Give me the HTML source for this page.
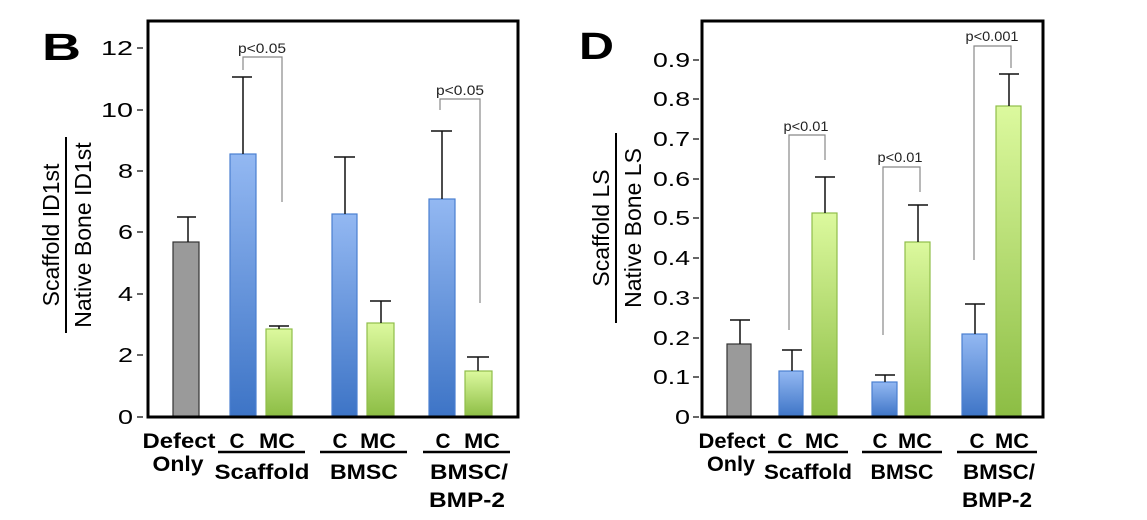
<!DOCTYPE html>
<html><head><style>body{margin:0;background:#fff}svg{display:block}</style></head>
<body>
<svg width="1147" height="520" viewBox="0 0 1147 520" xmlns="http://www.w3.org/2000/svg" font-family="Liberation Sans, Arial, sans-serif">
<defs>
<linearGradient id="bl" x1="0" y1="0" x2="0" y2="1"><stop offset="0" stop-color="#93b8f2"/><stop offset="1" stop-color="#3d74c6"/></linearGradient>
<linearGradient id="gr" x1="0" y1="0" x2="0" y2="1"><stop offset="0" stop-color="#dcf99e"/><stop offset="1" stop-color="#8cbd44"/></linearGradient>
</defs>
<!-- Panel B -->
<text x="42" y="60" font-size="38" font-weight="bold" textLength="39" lengthAdjust="spacingAndGlyphs">B</text>
<g font-size="20" text-anchor="end" lengthAdjust="spacingAndGlyphs">
<text x="133" y="424" textLength="15" lengthAdjust="spacingAndGlyphs">0</text><text x="133" y="362" textLength="15" lengthAdjust="spacingAndGlyphs">2</text><text x="133" y="301" textLength="15" lengthAdjust="spacingAndGlyphs">4</text><text x="133" y="239" textLength="15" lengthAdjust="spacingAndGlyphs">6</text><text x="133" y="178" textLength="15" lengthAdjust="spacingAndGlyphs">8</text><text x="133" y="117" textLength="32" lengthAdjust="spacingAndGlyphs">10</text><text x="133" y="55" textLength="32" lengthAdjust="spacingAndGlyphs">12</text>
</g>
<g stroke="#333" stroke-width="1.5">
<line x1="137" y1="417" x2="143" y2="417"/><line x1="137" y1="355" x2="143" y2="355"/><line x1="137" y1="294" x2="143" y2="294"/><line x1="137" y1="232" x2="143" y2="232"/><line x1="137" y1="171" x2="143" y2="171"/><line x1="137" y1="110" x2="143" y2="110"/><line x1="137" y1="48" x2="143" y2="48"/>
</g>
<g transform="translate(66,235) rotate(-90)" font-size="23" text-anchor="middle">
<text x="0" y="-7">Scaffold ID1st</text><text x="0" y="25">Native Bone ID1st</text>
<line x1="-98" y1="0" x2="98" y2="0" stroke="#000" stroke-width="2"/>
</g>
<g stroke-width="1.2">
<rect x="173" y="242" width="26" height="175" fill="#9a9a9a" stroke="#333"/>
<rect x="230" y="154" width="26" height="263" fill="url(#bl)" stroke="#4a7fd0"/>
<rect x="266" y="329" width="26" height="88" fill="url(#gr)" stroke="#8fbd4a"/>
<rect x="332" y="214" width="25" height="203" fill="url(#bl)" stroke="#4a7fd0"/>
<rect x="367" y="323" width="27" height="94" fill="url(#gr)" stroke="#8fbd4a"/>
<rect x="429" y="199" width="26" height="218" fill="url(#bl)" stroke="#4a7fd0"/>
<rect x="465" y="371" width="27" height="46" fill="url(#gr)" stroke="#8fbd4a"/>
</g>
<g stroke="#111" stroke-width="1.5">
<path d="M188 242V217M177 217H196"/>
<path d="M243 154V77M232 77H252"/>
<path d="M279 329V326M269 326H289"/>
<path d="M345 214V157M334 157H355"/>
<path d="M381 323V301M370 301H391"/>
<path d="M442 199V131M431 131H452"/>
<path d="M478 371V357M467 357H489"/>
</g>
<g stroke="#888" stroke-width="1.2" fill="none">
<path d="M243 70V57H282V202"/>
<path d="M440 110V99H480V303"/>
</g>
<g font-size="14" text-anchor="middle" fill="#222"><text x="262" y="53" textLength="48" lengthAdjust="spacingAndGlyphs">p&lt;0.05</text><text x="460" y="95" textLength="48" lengthAdjust="spacingAndGlyphs">p&lt;0.05</text></g>
<rect x="148" y="21" width="370" height="396" fill="none" stroke="#000" stroke-width="3"/>
<g font-size="21" font-weight="bold" text-anchor="middle">
<text x="179" y="448" textLength="73" lengthAdjust="spacingAndGlyphs">Defect</text><text x="178" y="471" textLength="51" lengthAdjust="spacingAndGlyphs">Only</text>
<text x="237" y="448" textLength="15" lengthAdjust="spacingAndGlyphs">C</text><text x="277" y="448" textLength="36" lengthAdjust="spacingAndGlyphs">MC</text>
<text x="340" y="448" textLength="15" lengthAdjust="spacingAndGlyphs">C</text><text x="378" y="448" textLength="36" lengthAdjust="spacingAndGlyphs">MC</text>
<text x="443" y="448" textLength="15" lengthAdjust="spacingAndGlyphs">C</text><text x="482" y="448" textLength="36" lengthAdjust="spacingAndGlyphs">MC</text>
<text x="262" y="479" textLength="95" lengthAdjust="spacingAndGlyphs">Scaffold</text><text x="364" y="479" textLength="68" lengthAdjust="spacingAndGlyphs">BMSC</text><text x="469" y="479" textLength="78" lengthAdjust="spacingAndGlyphs">BMSC/</text><text x="467" y="507" textLength="76" lengthAdjust="spacingAndGlyphs">BMP-2</text>
</g>
<g stroke="#000" stroke-width="2.5"><line x1="218" y1="452" x2="305" y2="452"/><line x1="320" y1="452" x2="407" y2="452"/><line x1="423" y1="452" x2="510" y2="452"/></g>

<!-- Panel D -->
<text x="579" y="59" font-size="38" font-weight="bold" textLength="35" lengthAdjust="spacingAndGlyphs">D</text>
<g font-size="20" text-anchor="end">
<text x="690" y="424" textLength="15" lengthAdjust="spacingAndGlyphs">0</text><text x="690" y="384" textLength="37" lengthAdjust="spacingAndGlyphs">0.1</text><text x="690" y="345" textLength="37" lengthAdjust="spacingAndGlyphs">0.2</text><text x="690" y="305" textLength="37" lengthAdjust="spacingAndGlyphs">0.3</text><text x="690" y="265" textLength="37" lengthAdjust="spacingAndGlyphs">0.4</text><text x="690" y="225" textLength="37" lengthAdjust="spacingAndGlyphs">0.5</text><text x="690" y="186" textLength="37" lengthAdjust="spacingAndGlyphs">0.6</text><text x="690" y="146" textLength="37" lengthAdjust="spacingAndGlyphs">0.7</text><text x="690" y="106" textLength="37" lengthAdjust="spacingAndGlyphs">0.8</text><text x="690" y="67" textLength="37" lengthAdjust="spacingAndGlyphs">0.9</text>
</g>
<g stroke="#333" stroke-width="1.5">
<line x1="693" y1="417" x2="699" y2="417"/><line x1="693" y1="377" x2="699" y2="377"/><line x1="693" y1="338" x2="699" y2="338"/><line x1="693" y1="298" x2="699" y2="298"/><line x1="693" y1="258" x2="699" y2="258"/><line x1="693" y1="218" x2="699" y2="218"/><line x1="693" y1="179" x2="699" y2="179"/><line x1="693" y1="139" x2="699" y2="139"/><line x1="693" y1="99" x2="699" y2="99"/><line x1="693" y1="60" x2="699" y2="60"/>
</g>
<g transform="translate(616,228) rotate(-90)" font-size="23" text-anchor="middle">
<text x="0" y="-7">Scaffold LS</text><text x="0" y="25">Native Bone LS</text>
<line x1="-95" y1="0" x2="95" y2="0" stroke="#000" stroke-width="2"/>
</g>
<g stroke-width="1.2">
<rect x="727" y="344" width="24" height="73" fill="#9a9a9a" stroke="#333"/>
<rect x="779" y="371" width="24" height="46" fill="url(#bl)" stroke="#4a7fd0"/>
<rect x="812" y="213" width="25" height="204" fill="url(#gr)" stroke="#8fbd4a"/>
<rect x="872" y="382" width="25" height="35" fill="url(#bl)" stroke="#4a7fd0"/>
<rect x="905" y="242" width="25" height="175" fill="url(#gr)" stroke="#8fbd4a"/>
<rect x="962" y="334" width="25" height="83" fill="url(#bl)" stroke="#4a7fd0"/>
<rect x="996" y="106" width="25" height="311" fill="url(#gr)" stroke="#8fbd4a"/>
</g>
<g stroke="#111" stroke-width="1.5">
<path d="M740 344V320M730 320H750"/>
<path d="M792 371V350M782 350H802"/>
<path d="M825 213V177M815 177H835"/>
<path d="M885 382V375M875 375H895"/>
<path d="M918 242V205M908 205H928"/>
<path d="M975 334V304M965 304H985"/>
<path d="M1009 106V74M999 74H1019"/>
</g>
<g stroke="#888" stroke-width="1.2" fill="none">
<path d="M789 330V135H825V160"/>
<path d="M883 335V167H920V192"/>
<path d="M974 260V46H1011V68"/>
</g>
<g font-size="14" text-anchor="middle" fill="#222"><text x="806" y="131" textLength="45" lengthAdjust="spacingAndGlyphs">p&lt;0.01</text><text x="900" y="162" textLength="45" lengthAdjust="spacingAndGlyphs">p&lt;0.01</text><text x="992" y="41" textLength="53" lengthAdjust="spacingAndGlyphs">p&lt;0.001</text></g>
<rect x="702" y="21" width="341" height="396" fill="none" stroke="#000" stroke-width="3"/>
<g font-size="21" font-weight="bold" text-anchor="middle">
<text x="732" y="448" textLength="67" lengthAdjust="spacingAndGlyphs">Defect</text><text x="731" y="471" textLength="48" lengthAdjust="spacingAndGlyphs">Only</text>
<text x="785" y="448" textLength="15" lengthAdjust="spacingAndGlyphs">C</text><text x="822" y="448" textLength="34" lengthAdjust="spacingAndGlyphs">MC</text>
<text x="880" y="448" textLength="15" lengthAdjust="spacingAndGlyphs">C</text><text x="915" y="448" textLength="34" lengthAdjust="spacingAndGlyphs">MC</text>
<text x="977" y="448" textLength="15" lengthAdjust="spacingAndGlyphs">C</text><text x="1012" y="448" textLength="34" lengthAdjust="spacingAndGlyphs">MC</text>
<text x="808" y="479" textLength="88" lengthAdjust="spacingAndGlyphs">Scaffold</text><text x="902" y="479" textLength="63" lengthAdjust="spacingAndGlyphs">BMSC</text><text x="999" y="479" textLength="72" lengthAdjust="spacingAndGlyphs">BMSC/</text><text x="997" y="507" textLength="70" lengthAdjust="spacingAndGlyphs">BMP-2</text>
</g>
<g stroke="#000" stroke-width="2.5"><line x1="768" y1="452" x2="848" y2="452"/><line x1="862" y1="452" x2="942" y2="452"/><line x1="957" y1="452" x2="1037" y2="452"/></g>
</svg>
</body></html>
